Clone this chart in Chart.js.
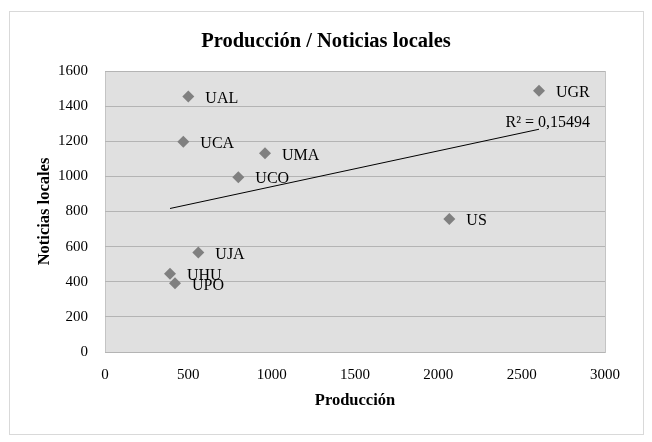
<!DOCTYPE html>
<html>
<head>
<meta charset="utf-8">
<script src="https://cdn.jsdelivr.net/npm/chart.js@4/dist/chart.umd.min.js"></script>
<style>
  html, body { margin: 0; padding: 0; background: #fff; }
  #wrap { width: 652px; height: 442px; }
</style>
</head>
<body>
<div id="wrap"><canvas id="chart" width="652" height="442"></canvas></div>
<script>
// universities and their values
const universities = ['UAL', 'UCA', 'UMA', 'UCO', 'UJA', 'UHU', 'UPO', 'UGR', 'US'];
const produccion = [500, 470, 960, 800, 560, 390, 420, 2604, 2066];
const noticias = [1455, 1197, 1131, 995, 567, 445, 391, 1488, 757];
const r2Text = 'R² = 0,15494';

const xTicks = [0, 500, 1000, 1500, 2000, 2500, 3000];
const yTicks = [0, 200, 400, 600, 800, 1000, 1200, 1400, 1600];

const serif = "'Liberation Serif', 'DejaVu Serif', serif";

// linear trend line (least squares) over the data
function trendLine(xs, ys) {
  const n = xs.length;
  const mx = xs.reduce((a, b) => a + b, 0) / n;
  const my = ys.reduce((a, b) => a + b, 0) / n;
  let sxy = 0, sxx = 0;
  for (let i = 0; i < n; i++) {
    sxy += (xs[i] - mx) * (ys[i] - my);
    sxx += (xs[i] - mx) * (xs[i] - mx);
  }
  const slope = sxy / sxx;
  const x0 = Math.min(...xs), x1 = Math.max(...xs);
  return [
    { x: x0, y: my + slope * (x0 - mx) },
    { x: x1, y: my + slope * (x1 - mx) }
  ];
}

const points = produccion.map((x, i) => ({ x: x, y: noticias[i] }));
const trend = trendLine(produccion, noticias);

// outer frame + plot background
const framePlugin = {
  id: 'frame',
  beforeDraw(chart) {
    const ctx = chart.ctx;
    const a = chart.chartArea;
    ctx.save();
    ctx.fillStyle = '#ffffff';
    ctx.fillRect(0, 0, chart.width, chart.height);
    ctx.strokeStyle = '#d9d9d9';
    ctx.lineWidth = 1;
    ctx.strokeRect(9.5, 11.5, 634, 423);
    ctx.fillStyle = '#e0e0e0';
    ctx.fillRect(a.left, a.top, a.right - a.left, a.bottom - a.top);
    ctx.strokeStyle = '#c4c4c4';
    ctx.strokeRect(a.left + 0.5, a.top + 0.5, a.right - a.left, a.bottom - a.top);
    ctx.restore();
  }
};

// point labels and the R² text
const labelPlugin = {
  id: 'labels',
  afterDatasetsDraw(chart) {
    const ctx = chart.ctx;
    const meta = chart.getDatasetMeta(0);
    ctx.save();
    ctx.font = '16px ' + serif;
    ctx.fillStyle = '#000';
    ctx.textBaseline = 'middle';
    ctx.textAlign = 'left';
    meta.data.forEach((pt, i) => {
      ctx.fillText(universities[i], pt.x + 17, pt.y + 2);
    });
    const end = chart.getDatasetMeta(1).data[1];
    ctx.textAlign = 'right';
    ctx.fillText(r2Text, end.x + 51, end.y - 6);
    ctx.restore();
  }
};

const plainTick = v => String(v);

new Chart(document.getElementById('chart'), {
  type: 'scatter',
  data: {
    datasets: [
      {
        data: points,
        pointStyle: 'rectRot',
        pointRadius: 6,
        pointHoverRadius: 6,
        backgroundColor: '#808080',
        borderColor: '#808080',
        borderWidth: 0
      },
      {
        type: 'line',
        data: trend,
        borderColor: '#000000',
        borderWidth: 1,
        pointRadius: 0,
        fill: false
      }
    ]
  },
  options: {
    responsive: false,
    animation: false,
    layout: { padding: { top: 0, left: 23.5, right: 23.5, bottom: 0 } },
    plugins: {
      legend: { display: false },
      tooltip: { enabled: false },
      title: {
        display: true,
        text: 'Producción / Noticias locales',
        color: '#000',
        font: { family: serif, size: 20.5, weight: 'bold' },
        padding: { top: 29, bottom: 17.4 }
      }
    },
    scales: {
      x: {
        type: 'linear',
        min: 0,
        max: 3000,
        afterBuildTicks(scale) { scale.ticks = xTicks.map(v => ({ value: v })); },
        afterFit(scale) { scale.height = 90; },
        grid: { display: false, drawTicks: false },
        border: { display: false },
        ticks: { color: '#000', padding: 14, font: { family: serif, size: 15 }, callback: plainTick },
        title: {
          display: true,
          text: 'Producción',
          color: '#000',
          font: { family: serif, size: 16.5, weight: 'bold' },
          padding: { top: 31, bottom: 31 }
        }
      },
      y: {
        type: 'linear',
        min: 0,
        max: 1600,
        afterBuildTicks(scale) { scale.ticks = yTicks.map(v => ({ value: v })); },
        afterFit(scale) { scale.width = 81.5; },
        grid: { color: '#b4b4b4', drawTicks: false },
        border: { display: false },
        ticks: { color: '#000', padding: 17, font: { family: serif, size: 15 }, callback: plainTick },
        title: {
          display: true,
          text: 'Noticias locales',
          color: '#000',
          font: { family: serif, size: 16.5, weight: 'bold' },
          padding: { top: 11.5, bottom: 11.5 }
        }
      },
      // empty spacer on the right so the title stays centred on the frame
      spacer: {
        type: 'linear',
        position: 'right',
        min: 0,
        max: 1600,
        afterFit(scale) { scale.width = 23.5; },
        grid: { display: false, drawTicks: false },
        border: { display: false },
        ticks: { display: false }
      }
    }
  },
  plugins: [framePlugin, labelPlugin]
});
</script>
</body>
</html>
